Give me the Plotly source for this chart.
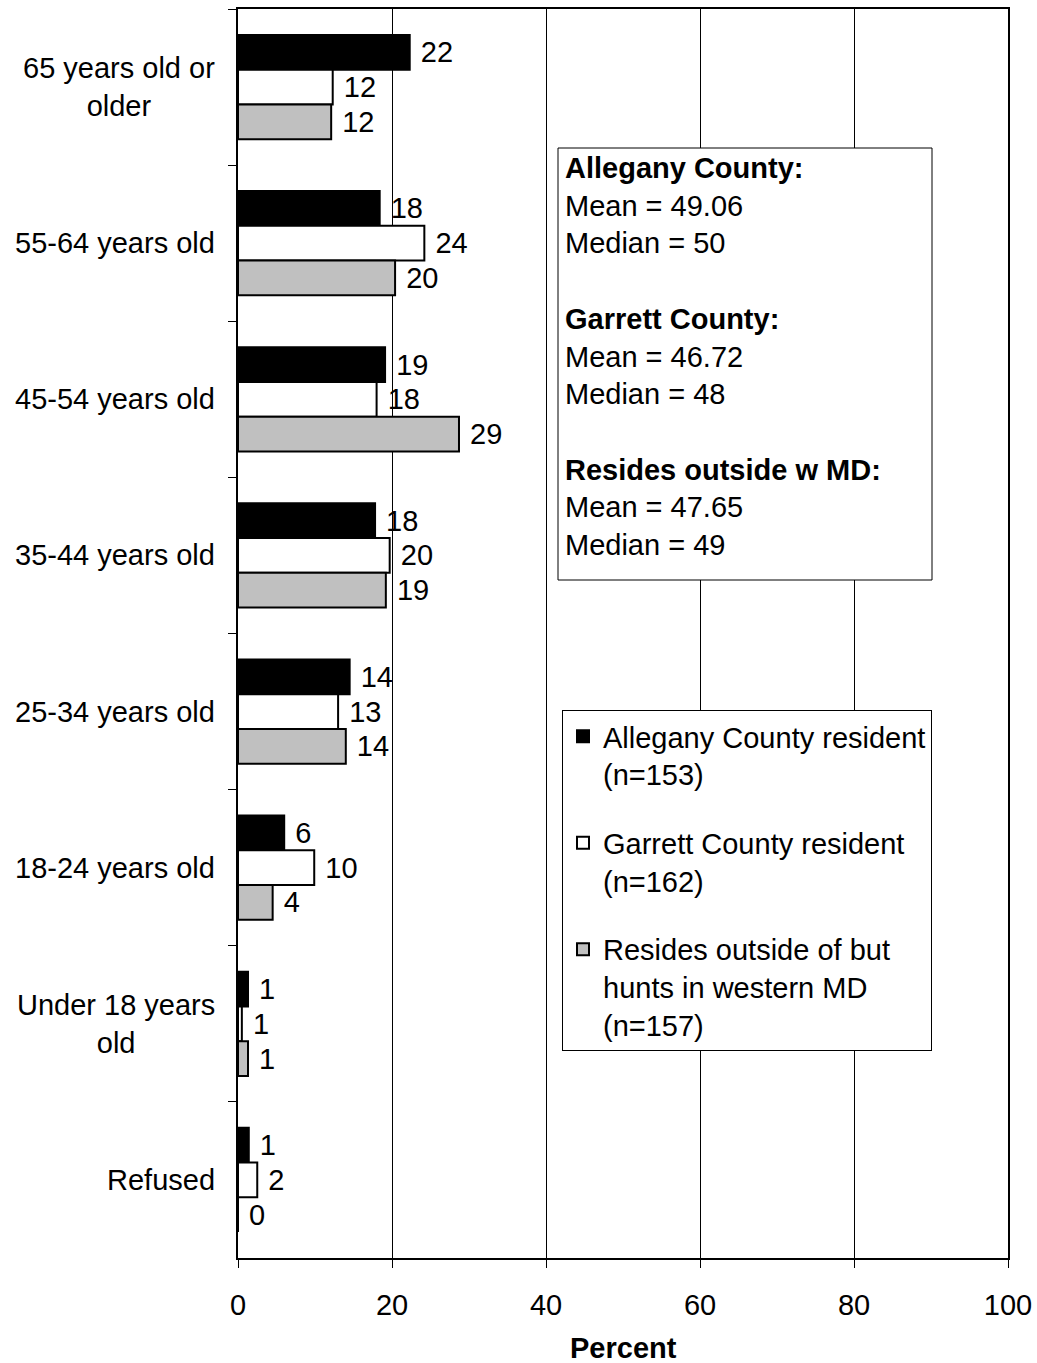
import plotly.graph_objects as go

categories = ["65 years old or<br>older", "55-64 years old", "45-54 years old",
              "35-44 years old", "25-34 years old", "18-24 years old",
              "Under 18 years<br>old", "Refused"]

allegany = [22.3, 18.4, 19.1, 17.8, 14.5, 6.0, 1.3, 1.4]
garrett = [12.3, 24.2, 18.0, 19.7, 13.0, 9.9, 0.5, 2.5]
outside = [12.1, 20.4, 28.7, 19.2, 14.0, 4.5, 1.3, 0.0]

allegany_labels = ["22", "18", "19", "18", "14", "6", "1", "1"]
garrett_labels = ["12", "24", "18", "20", "13", "10", "1", "2"]
outside_labels = ["12", "20", "29", "19", "14", "4", "1", "0"]

series_names = ["Allegany County resident<br>(n=153)",
                "Garrett County resident<br>(n=162)",
                "Resides outside of but<br>hunts in western MD<br>(n=157)"]
series_colors = ["#000000", "#FFFFFF", "#C0C0C0"]

x_ticks = [0, 20, 40, 60, 80, 100]

stats_text = ("<b>Allegany County:</b><br>Mean = 49.06<br>Median = 50<br> <br>"
              "<b>Garrett County:</b><br>Mean = 46.72<br>Median = 48<br> <br>"
              "<b>Resides outside w MD:</b><br>Mean = 47.65<br>Median = 49")

FONT = "Liberation Sans, Arial, sans-serif"
FS = 29

W, H = 1037, 1363
PLOT_L, PLOT_R, PLOT_T, PLOT_B = 238, 1008, 9, 1258  # page pixels
L, T = PLOT_L, PLOT_T
R, B = W - PLOT_R, H - PLOT_B
PW, PH = W - L - R, H - T - B


def px_x(p):
    return (p - L) / PW


def px_y(p):
    return 1 - (p - T) / PH


fig = go.Figure()
for i, (vals, labs, name, col) in enumerate(zip([allegany, garrett, outside],
                                                [allegany_labels, garrett_labels, outside_labels],
                                                series_names, series_colors)):
    fig.add_trace(go.Bar(
        y=categories, x=vals, orientation="h", name=name,
        legendgroup=f"g{i}",
        marker=dict(color=col, line=dict(color="#000000", width=2)),
        text=labs, texttemplate=" %{text}", textposition="outside",
        constraintext="none", cliponaxis=False,
        textfont=dict(family=FONT, size=FS, color="#000000"),
    ))

fig.update_layout(
    width=W, height=H,
    margin=dict(l=L, r=R, t=T, b=B, autoexpand=False),
    paper_bgcolor="white", plot_bgcolor="white",
    barmode="group", bargap=0.333, bargroupgap=0,
    font=dict(family=FONT, size=FS, color="#000000"),
    legend=dict(
        x=px_x(562), y=px_y(710), xanchor="left", yanchor="top",
        bgcolor="white", bordercolor="#000000", borderwidth=1,
        font=dict(family=FONT, size=FS, color="#000000"),
        valign="top", itemwidth=30, tracegroupgap=28,
        traceorder="grouped",
    ),
    showlegend=True,
)

fig.update_xaxes(
    range=[0, 100], tickvals=x_ticks, ticktext=[str(v) for v in x_ticks],
    showgrid=True, gridcolor="#000000", gridwidth=1,
    showline=True, linecolor="#000000", linewidth=2, mirror=True,
    ticks="outside", ticklen=8, tickcolor="#000000", tickwidth=1,
    ticklabelstandoff=12, zeroline=False,
    tickfont=dict(family=FONT, size=FS, color="#000000"),
)
fig.update_yaxes(
    type="category", autorange="reversed",
    showline=True, linecolor="#000000", linewidth=2, mirror=True,
    ticks="outside", ticklen=8, tickcolor="#000000", tickwidth=1,
    tickson="boundaries", showticklabels=False, showgrid=False,
)

for c in categories:
    fig.add_annotation(
        x=0, xref="x", y=c, yref="y", text=c, showarrow=False,
        xanchor="right", yanchor="middle", align="center", xshift=-21,
        font=dict(family=FONT, size=FS, color="#000000"),
    )

fig.add_shape(type="rect", xref="paper", yref="paper",
              x0=px_x(558), x1=px_x(932), y0=px_y(580), y1=px_y(148),
              line=dict(color="#000000", width=1), fillcolor="white", layer="above")
fig.add_annotation(
    x=px_x(563), y=px_y(150), xref="paper", yref="paper", text=stats_text,
    showarrow=False, xanchor="left", yanchor="top", align="left",
    font=dict(family=FONT, size=FS, color="#000000"),
)

fig.add_annotation(
    x=0.5, y=px_y(1348), xref="paper", yref="paper", text="<b>Percent</b>",
    showarrow=False, xanchor="center", yanchor="middle",
    font=dict(family=FONT, size=FS, color="#000000"),
)

fig.write_html("out.html",
               config={"displayModeBar": False},
               post_script="document.body.style.margin='0';document.body.style.overflow='hidden';")
